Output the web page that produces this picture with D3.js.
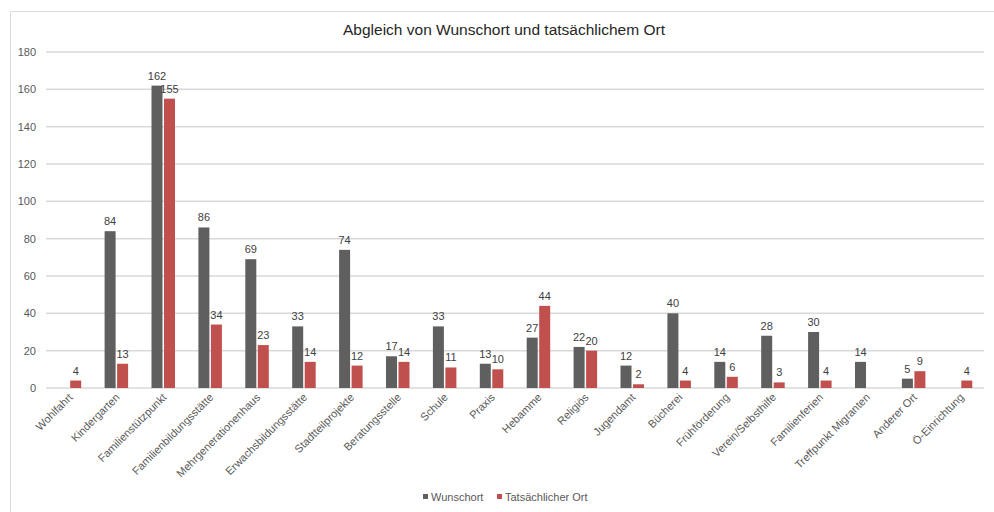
<!DOCTYPE html>
<html><head><meta charset="utf-8">
<script src="https://cdn.jsdelivr.net/npm/d3@7/dist/d3.min.js"></script>
<style>body{margin:0;background:#fff}svg{display:block;font-family:"Liberation Sans",Arial,sans-serif}</style>
</head><body><svg id="c" width="994" height="512"></svg>
<script>
const categories = ["Wohlfahrt","Kindergarten","Familienstützpunkt","Familienbildungsstätte","Mehrgenerationenhaus","Erwachsbildungsstätte","Stadtteilprojekte","Beratungsstelle","Schule","Praxis","Hebamme","Religiös","Jugendamt","Bücherei","Frühförderung","Verein/Selbsthilfe","Familienferien","Treffpunkt Migranten","Anderer Ort","Ö-Einrichtung"];
const wunschort = [null,84,162,86,69,33,74,17,33,13,27,22,12,40,14,28,30,14,5,null];
const tatsaechlich = [4,13,155,34,23,14,12,14,11,10,44,20,2,4,6,3,4,null,9,4];
const seriesNames = ["Wunschort","Tatsächlicher Ort"];
const yTicks = [0,20,40,60,80,100,120,140,160,180];
const title = "Abgleich von Wunschort und tatsächlichem Ort";
const colors = ["#5f5f5f","#c0504d"];

const svg = d3.select("#c");
svg.append("path").attr("d","M10.5,512 V11.5 H994").attr("fill","none").attr("stroke","#d9d9d9").attr("stroke-width",1);

const pL = 46, pR = 984, pT = 52, pB = 388;
const x = d3.scaleBand().domain(categories).range([pL,pR]).paddingInner(0).paddingOuter(0);
const y = d3.scaleLinear().domain([0,180]).range([pB,pT]);
const barW = 11, gap = 1.5;

svg.append("g").selectAll("line").data(yTicks).join("line")
  .attr("x1",pL).attr("x2",pR).attr("y1",d=>y(d)).attr("y2",d=>y(d))
  .attr("stroke","#d9d9d9").attr("stroke-width",1.5);

const yAxis = d3.axisLeft(y).tickValues(yTicks).tickSize(0).tickPadding(10);
const ga = svg.append("g").attr("transform",`translate(${pL},0)`).call(yAxis);
ga.select(".domain").remove();
ga.selectAll("text").attr("font-size",11).attr("fill","#595959").attr("font-family","Liberation Sans, Arial, sans-serif");

const series = [wunschort, tatsaechlich];
series.forEach((vals,si)=>{
  const g = svg.append("g");
  const data = vals.map((v,i)=>({c:categories[i],v})).filter(d=>d.v!=null);
  const bx = d=> x(d.c)+x.bandwidth()/2 + (si===0 ? -barW-gap/2 : gap/2);
  g.selectAll("rect").data(data).join("rect")
    .attr("x",bx).attr("width",barW)
    .attr("y",d=>y(d.v)).attr("height",d=>y(0)-y(d.v))
    .attr("fill",colors[si]);
  g.selectAll("text").data(data).join("text")
    .attr("x",d=>bx(d)+barW/2).attr("y",d=>y(d.v)-6)
    .attr("text-anchor","middle").attr("font-size",11).attr("fill","#404040")
    .text(d=>d.v);
});

svg.append("g").selectAll("text").data(categories).join("text")
  .attr("transform",d=>`translate(${x(d)+x.bandwidth()/2+4},${pB+10}) rotate(-45)`)
  .attr("text-anchor","end").attr("font-size",11).attr("fill","#595959").text(d=>d);

svg.append("text").attr("x",504).attr("y",35).attr("text-anchor","middle")
  .attr("font-size",15.5).attr("fill","#262626").text(title);

const legX = [423, 497];
seriesNames.forEach((n,i)=>{
  svg.append("rect").attr("x",legX[i]).attr("y",494).attr("width",5).attr("height",5).attr("fill",colors[i]);
  svg.append("text").attr("x",legX[i]+8).attr("y",500.5).attr("font-size",11).attr("fill","#595959").text(n);
});
</script></body></html>
